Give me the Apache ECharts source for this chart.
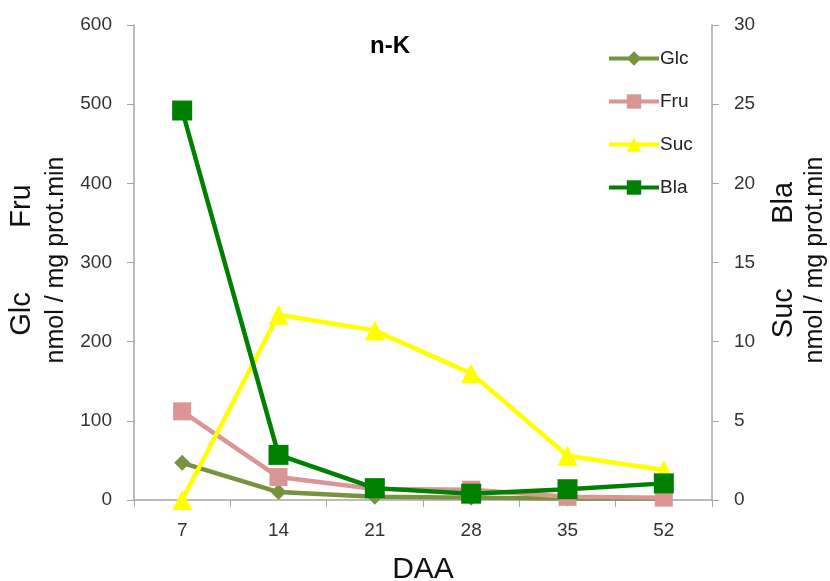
<!DOCTYPE html>
<html><head><meta charset="utf-8">
<script src="https://cdn.jsdelivr.net/npm/echarts@6/dist/echarts.min.js"></script>
<style>html,body{margin:0;padding:0;background:#fff}#c{width:830px;height:581px}</style>
</head><body><div id="c"></div>
<script>
var categories = ['7','14','21','28','35','52'];
var glc = [47, 10, 4, 3, 2, 2];
var fru = [112, 29, 14, 13, 4, 3];
var suc = [0, 11.7, 10.7, 8.0, 2.8, 1.9];
var bla = [24.6, 2.85, 0.75, 0.4, 0.68, 1.05];
var leftTicks = {min: 0, max: 600, interval: 100};
var rightTicks = {min: 0, max: 30, interval: 5};

var font = 'Liberation Sans, Arial, sans-serif';
var axisCol = '#a6a6a6';
var chart = echarts.init(document.getElementById('c'));
function ser(name, data, color, symbol, size, yIdx) {
  return {name: name, type: 'line', data: data, yAxisIndex: yIdx, symbol: symbol, symbolSize: size,
    lineStyle: {color: color, width: 4.5}, itemStyle: {color: color}, z: 2};
}
chart.setOption({
  animation: false,
  backgroundColor: '#fff',
  textStyle: {fontFamily: font},
  title: {text: 'n-K', left: 385, top: 29, textAlign: 'center',
    textStyle: {fontFamily: font, fontWeight: 'bold', fontSize: 24, color: '#000'}},
  grid: {left: 134, right: 118, top: 25, bottom: 81, containLabel: false, outerBoundsMode: 'none'},
  legend: {orient: 'vertical', left: 602, top: 44, itemWidth: 50, itemHeight: 18, itemGap: 24,
    lineStyle: {width: 4},
    textStyle: {fontFamily: font, fontSize: 19, color: '#222', padding: [0,0,0,-4]},
    data: ['Glc','Fru','Suc','Bla']},
  xAxis: {type: 'category', data: categories, boundaryGap: true,
    name: 'DAA', nameLocation: 'middle', nameGap: 55,
    nameTextStyle: {fontFamily: font, fontSize: 30, color: '#111'},
    axisLine: {lineStyle: {color: axisCol, width: 1.5}},
    axisTick: {show: true, length: 7, inside: false, lineStyle: {color: axisCol}},
    axisLabel: {fontFamily: font, fontSize: 19, color: '#333', margin: 21}},
  yAxis: [
    {type: 'value', min: leftTicks.min, max: leftTicks.max, interval: leftTicks.interval, position: 'left',
      axisLine: {show: true, lineStyle: {color: axisCol, width: 1.5}},
      axisTick: {show: true, length: 7, lineStyle: {color: axisCol}},
      splitLine: {show: false},
      axisLabel: {fontFamily: font, fontSize: 19, color: '#333', margin: 22}},
    {type: 'value', min: rightTicks.min, max: rightTicks.max, interval: rightTicks.interval, position: 'right',
      axisLine: {show: true, lineStyle: {color: axisCol, width: 1.5}},
      axisTick: {show: true, length: 7, lineStyle: {color: axisCol}},
      splitLine: {show: false},
      axisLabel: {fontFamily: font, fontSize: 19, color: '#333', margin: 22}}
  ],
  graphic: [
    {type: 'text', x: 7, y: 260, rotation: Math.PI/2, style: {text: 'Glc        Fru', font: '29px ' + font, fill: '#111', textAlign: 'center', textVerticalAlign: 'top'}},
    {type: 'text', x: 44, y: 260, rotation: Math.PI/2, style: {text: 'nmol / mg prot.min', font: '25px ' + font, fill: '#111', textAlign: 'center', textVerticalAlign: 'top'}},
    {type: 'text', x: 769, y: 260, rotation: Math.PI/2, style: {text: 'Suc        Bla', font: '29px ' + font, fill: '#111', textAlign: 'center', textVerticalAlign: 'top'}},
    {type: 'text', x: 803, y: 260, rotation: Math.PI/2, style: {text: 'nmol / mg prot.min', font: '25px ' + font, fill: '#111', textAlign: 'center', textVerticalAlign: 'top'}}
  ],
  series: [
    ser('Glc', glc, '#77933C', 'diamond', 16, 0),
    ser('Fru', fru, '#D99694', 'rect', 18, 0),
    ser('Suc', suc, '#FFFF00', 'triangle', 20, 1),
    ser('Bla', bla, '#008000', 'rect', 20, 1)
  ]
});
</script></body></html>
